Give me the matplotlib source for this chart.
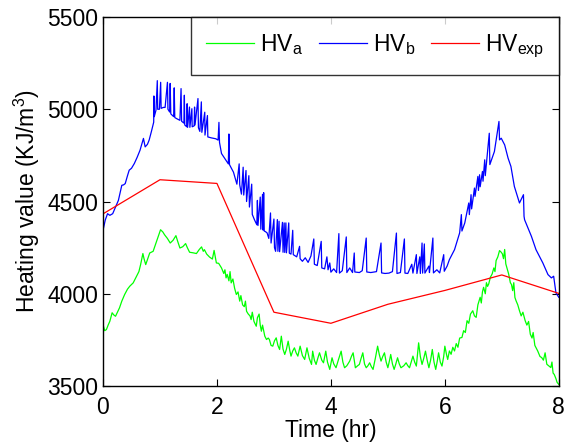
import numpy as np
import matplotlib
matplotlib.use("Agg")
import matplotlib.pyplot as plt

plt.rcParams['font.family'] = ['Liberation Sans', 'DejaVu Sans']
plt.rcParams['mathtext.fontset'] = 'custom'
plt.rcParams['mathtext.rm'] = 'Liberation Sans'
plt.rcParams['mathtext.it'] = 'Liberation Sans'

# experimental heating value (hourly)
exp_t = [0, 1, 2, 3, 4, 5, 6, 7, 8]
exp_v = [4433, 4618, 4598, 3900, 3840, 3943, 4018, 4102, 4002]

# HV_a (green)
a_t = [0.00, 0.03, 0.06, 0.09, 0.12, 0.16, 0.19, 0.22, 0.29, 0.33, 0.38, 0.43, 0.47, 0.53,
       0.59, 0.63, 0.66, 0.70, 0.72, 0.75, 0.78, 0.82, 0.88, 0.94, 0.98, 1.01, 1.05, 1.08,
       1.13, 1.18, 1.23, 1.28, 1.31, 1.35, 1.40, 1.45, 1.48, 1.52, 1.58, 1.64, 1.69, 1.73,
       1.76, 1.78, 1.82, 1.87, 1.92, 1.95, 1.99, 2.03, 2.08, 2.12, 2.14, 2.16, 2.18, 2.21,
       2.23, 2.25, 2.28, 2.31, 2.34, 2.37, 2.40, 2.42, 2.45, 2.48, 2.50, 2.52, 2.55, 2.58,
       2.60, 2.62, 2.65, 2.69, 2.71, 2.74, 2.76, 2.78, 2.80, 2.84, 2.87, 2.90, 2.92, 2.95,
       2.98, 3.01, 3.04, 3.07, 3.10, 3.13, 3.16, 3.19, 3.22, 3.25, 3.28, 3.30, 3.33, 3.36,
       3.39, 3.42, 3.46, 3.50, 3.54, 3.58, 3.62, 3.66, 3.68, 3.71, 3.74, 3.77, 3.80, 3.84,
       3.87, 3.91, 3.94, 3.98, 4.02, 4.05, 4.09, 4.13, 4.18, 4.21, 4.24, 4.28, 4.33, 4.36,
       4.39, 4.43, 4.47, 4.50, 4.53, 4.56, 4.59, 4.62, 4.65, 4.68, 4.71, 4.74, 4.78, 4.82,
       4.85, 4.88, 4.91, 4.94, 4.97, 5.00, 5.03, 5.05, 5.08, 5.11, 5.14, 5.17, 5.20, 5.23,
       5.28, 5.32, 5.35, 5.38, 5.41, 5.44, 5.47, 5.50, 5.54, 5.57, 5.60, 5.63, 5.66, 5.69,
       5.72, 5.75, 5.78, 5.81, 5.84, 5.87, 5.89, 5.92, 5.95, 5.98, 6.00, 6.03, 6.05, 6.08,
       6.11, 6.14, 6.17, 6.20, 6.23, 6.26, 6.30, 6.33, 6.36, 6.39, 6.42, 6.45, 6.49, 6.52,
       6.55, 6.58, 6.62, 6.64, 6.66, 6.68, 6.71, 6.73, 6.75, 6.77, 6.80, 6.83, 6.86, 6.88,
       6.90, 6.93, 6.96, 6.99, 7.01, 7.03, 7.05, 7.07, 7.10, 7.12, 7.15, 7.17, 7.19, 7.21,
       7.23, 7.25, 7.28, 7.31, 7.34, 7.37, 7.41, 7.44, 7.47, 7.50, 7.53, 7.55, 7.58, 7.60,
       7.63, 7.67, 7.70, 7.73, 7.76, 7.79, 7.82, 7.86, 7.88, 7.90, 7.92, 7.95, 7.97, 8.00]
a_v = [3833, 3800, 3806, 3830, 3851, 3897, 3885, 3878, 3924, 3960, 3996, 4025, 4041, 4059,
       4095, 4120, 4158, 4218, 4190, 4158, 4185, 4221, 4230, 4284, 4320, 4347, 4335, 4320,
       4300, 4275, 4290, 4315, 4285, 4248, 4255, 4272, 4250, 4225, 4222, 4218, 4240, 4254,
       4230, 4239, 4215, 4199, 4188, 4235, 4167, 4165, 4140, 4110, 4130, 4086, 4105, 4070,
       4120, 4059, 4080, 4030, 3996, 4010, 3960, 3990, 3940, 3930, 3960, 3905, 3890, 3880,
       3860, 3900, 3850, 3824, 3870, 3890, 3830, 3797, 3830, 3770, 3752, 3760, 3752, 3720,
       3716, 3745, 3761, 3720, 3698, 3770, 3700, 3671, 3700, 3743, 3690, 3662, 3690, 3707,
       3680, 3662, 3716, 3665, 3644, 3707, 3650, 3617, 3689, 3640, 3617, 3650, 3680, 3640,
       3626, 3689, 3630, 3590, 3653, 3620, 3599, 3640, 3689, 3630, 3599, 3610, 3635, 3660,
       3680, 3599, 3610, 3617, 3650, 3680, 3620, 3599, 3610, 3626, 3605, 3590, 3650, 3716,
       3670, 3635, 3660, 3680, 3630, 3599, 3640, 3671, 3620, 3590, 3620, 3653, 3620, 3599,
       3610, 3626, 3610, 3599, 3630, 3662, 3630, 3608, 3734, 3660, 3617, 3650, 3689, 3640,
       3599, 3640, 3698, 3630, 3590, 3640, 3680, 3630, 3608, 3660, 3716, 3670, 3644, 3690,
       3672, 3710, 3690, 3730, 3710, 3760, 3763, 3800, 3790, 3854, 3840, 3890, 3908, 3880,
       3872, 3940, 3981, 3950, 4010, 4035, 4000, 4060, 4040, 4053, 4090, 4107, 4140, 4120,
       4180, 4200, 4234, 4225, 4216, 4190, 4240, 4162, 4130, 4107, 4060, 4050, 4017, 4060,
       3980, 3962, 3940, 3908, 3880, 3900, 3854, 3830, 3850, 3781, 3760, 3790, 3720, 3708,
       3690, 3660, 3654, 3640, 3680, 3618, 3610, 3600, 3630, 3570, 3563, 3540, 3520, 3509]

# HV_b (blue), spikes included
b_t = [0.00, 0.04, 0.08, 0.12, 0.17, 0.22, 0.27, 0.31, 0.33, 0.36, 0.39, 0.43, 0.46, 0.50,
       0.55, 0.60, 0.65, 0.69, 0.71, 0.74, 0.78, 0.81, 0.85, 0.89, 0.893, 0.90, 0.93, 0.953,
       0.96, 0.99, 1.012, 1.02, 1.06, 1.09, 1.131, 1.14, 1.17, 1.179, 1.19, 1.24, 1.25, 1.26,
       1.30, 1.35, 1.37, 1.38, 1.42, 1.428, 1.435, 1.47, 1.477, 1.485, 1.518, 1.525, 1.56,
       1.565, 1.60, 1.607, 1.615, 1.667, 1.675, 1.70, 1.726, 1.735, 1.786, 1.79, 1.833, 1.84,
       1.90, 1.98, 2.02, 2.035, 2.045, 2.08, 2.14, 2.20, 2.21, 2.22, 2.29, 2.35, 2.39, 2.40,
       2.43, 2.46, 2.47, 2.51, 2.52, 2.56, 2.57, 2.61, 2.62, 2.66, 2.70, 2.71, 2.72, 2.76,
       2.77, 2.80, 2.81, 2.82, 2.83, 2.85, 2.88, 2.91, 2.94, 2.95, 3.00, 3.01, 3.03, 3.06,
       3.07, 3.09, 3.10, 3.15, 3.16, 3.18, 3.19, 3.21, 3.22, 3.26, 3.27, 3.30, 3.33, 3.34,
       3.40, 3.45, 3.46, 3.50, 3.55, 3.60, 3.65, 3.70, 3.71, 3.76, 3.83, 3.84, 3.89, 3.93,
       3.95, 3.98, 4.00, 4.05, 4.10, 4.14, 4.15, 4.20, 4.27, 4.28, 4.33, 4.38, 4.41, 4.42,
       4.50, 4.55, 4.62, 4.63, 4.70, 4.80, 4.88, 4.89, 4.95, 5.02, 5.08, 5.15, 5.16, 5.22,
       5.29, 5.30, 5.35, 5.42, 5.44, 5.50, 5.51, 5.56, 5.57, 5.60, 5.61, 5.64, 5.65, 5.72,
       5.73, 5.79, 5.80, 5.86, 5.91, 5.98, 5.99, 6.04, 6.08, 6.17, 6.26, 6.29, 6.30, 6.35,
       6.42, 6.43, 6.46, 6.47, 6.52, 6.53, 6.58, 6.59, 6.61, 6.62, 6.66, 6.67, 6.70, 6.71,
       6.78, 6.79, 6.87, 6.95, 6.96, 6.99, 7.05, 7.11, 7.16, 7.22, 7.31, 7.38, 7.39, 7.40,
       7.52, 7.60, 7.72, 7.81, 7.87, 7.91, 7.95, 8.00]
b_v = [4343, 4400, 4434, 4425, 4434, 4470, 4506, 4560, 4588, 4590, 4597, 4640, 4670, 4680,
       4706, 4740, 4778, 4820, 4842, 4796, 4810, 4833, 4880, 4930, 5072, 4960, 4995, 5155,
       5000, 5000, 5146, 5005, 5010, 5010, 5146, 5000, 4985, 5140, 4975, 4960, 5116, 4955,
       4948, 4940, 5112, 4935, 4925, 5076, 4915, 4905, 5030, 4902, 5012, 4902, 5003,
       4905, 4910, 5012, 4915, 5058, 4900, 4880, 5040, 4875, 4984, 4860, 4966, 4850,
       4845, 4840, 4833, 4929, 4820, 4760, 4732, 4704, 4866, 4700, 4659, 4594, 4704, 4590,
       4540, 4686, 4535, 4668, 4500, 4640, 4470, 4594, 4430, 4400, 4374, 4506, 4370, 4524,
       4350, 4539, 4345, 4548, 4340, 4337, 4330, 4300, 4438, 4275, 4405, 4250, 4230, 4402,
       4230, 4393, 4228, 4387, 4225, 4384, 4224, 4384, 4222, 4384, 4220, 4215, 4344, 4212,
       4200, 4257, 4190, 4176, 4195, 4170, 4205, 4297, 4160, 4153, 4284, 4140, 4135, 4200,
       4130, 4167, 4117, 4135, 4115, 4326, 4112, 4125, 4308, 4115, 4140, 4115, 4221, 4118,
       4115, 4125, 4302, 4118, 4115, 4120, 4275, 4113, 4110, 4112, 4120, 4329, 4110, 4115,
       4297, 4112, 4110, 4160, 4112, 4212, 4110, 4200, 4110, 4275, 4112, 4270, 4112, 4150,
       4115, 4302, 4113, 4130, 4113, 4212, 4122, 4150, 4185, 4239, 4330, 4429, 4340, 4384,
       4492, 4429, 4537, 4460, 4573, 4528, 4636, 4560, 4645, 4580, 4663, 4610, 4726, 4640,
       4870, 4700, 4771, 4934, 4834, 4843, 4807, 4735, 4690, 4582, 4492, 4537, 4420, 4401,
       4311, 4239, 4167, 4104, 4086, 4095, 4005, 3981]

fig = plt.figure(figsize=(5.65, 4.44), dpi=100)
ax = fig.add_axes([0.1823, 0.1306, 0.8067, 0.8311])

ax.plot(a_t, a_v, color='#00ff00', lw=0.9, label=r'HV$_\mathrm{a}$')
ax.plot(b_t, b_v, color='#0000ff', lw=0.9, label=r'HV$_\mathrm{b}$')
ax.plot(exp_t, exp_v, color='#ff0000', lw=0.9, label=r'HV$_\mathrm{exp}$')

ax.set_xlim(0, 8)
ax.set_ylim(3500, 5500)
ax.set_xticks([0, 2, 4, 6, 8])
ax.set_yticks([3500, 4000, 4500, 5000, 5500])
ax.tick_params(direction='in', top=True, right=True, labelsize=16.5, length=5, width=0.8)
ax.tick_params(axis='x', pad=7)
for s in ax.spines.values():
    s.set_linewidth(1.0)

ax.set_xlabel('Time (hr)', fontsize=16.5, labelpad=0)
ax.set_ylabel(r'Heating value (KJ/m$^3$)', fontsize=16.5, labelpad=4)

leg = ax.legend(loc='upper right', ncol=3, fontsize=16.5, frameon=True, fancybox=False,
                borderaxespad=0, handlelength=2.1, handletextpad=0.25, columnspacing=0.7,
                borderpad=0.65)
leg.get_frame().set_edgecolor('black')
leg.get_frame().set_linewidth(1.0)

fig.savefig('out.png', dpi=100)
